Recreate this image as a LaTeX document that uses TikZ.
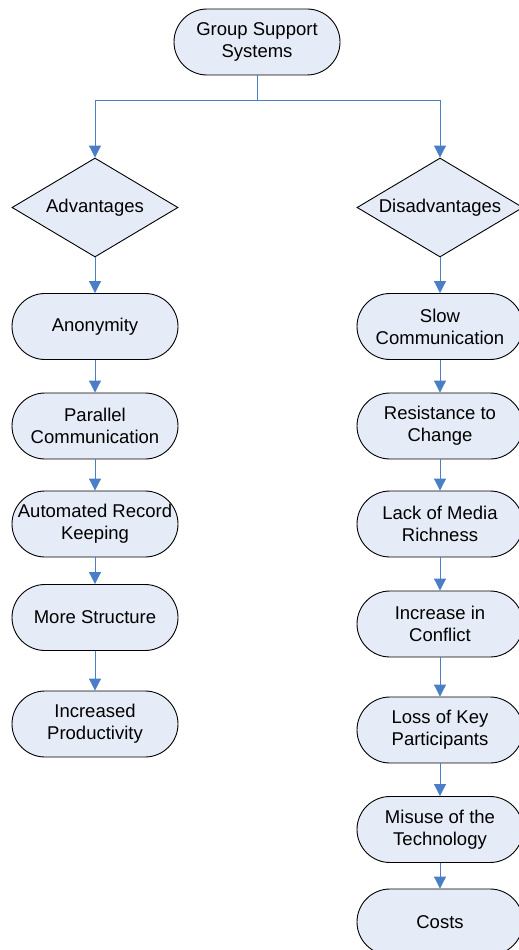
\documentclass[tikz,border=0pt]{standalone}
\usepackage{fontspec}
\setmainfont{Liberation Sans}
\usetikzlibrary{shapes.geometric,arrows.meta}
\definecolor{boxfill}{HTML}{E6ECF7}
\definecolor{arrowblue}{HTML}{4A7EC6}
\tikzset{
  stadium/.style={draw=black, line width=0.9pt, fill=boxfill, rounded corners=33pt,
    minimum width=166pt, minimum height=66pt, inner sep=0pt, align=center,
    font=\fontsize{18.5}{22}\selectfont},
  choice/.style={draw=black, line width=0.9pt, fill=boxfill, diamond, aspect=1.68,
    minimum width=166pt, minimum height=99pt, inner sep=0pt, align=center,
    font=\fontsize{18.5}{22}\selectfont},
  link/.style={draw=arrowblue, line width=1pt, -{Triangle[width=12pt,length=12pt]}},
  plain/.style={draw=arrowblue, line width=1pt}
}
\begin{document}
\begin{tikzpicture}[x=1pt,y=-1pt]
\useasboundingbox (0,0) rectangle (519,950);
\clip (0,0) rectangle (519,950);
\node[stadium] (gss) at (257,42) {Group Support\\Systems};
\node[choice] (adv) at (95,207.5) {Advantages};
\node[choice] (dis) at (440,207.5) {Disadvantages};
\coordinate (split) at (257,100);

\node[stadium] (a1) at (95,326.5) {Anonymity};
\node[stadium] (a2) at (95,426) {Parallel\\Communication};
\node[stadium] (a3) at (95,524) {Automated Record\\Keeping};
\node[stadium] (a4) at (95,617.5) {More Structure};
\node[stadium] (a5) at (95,724) {Increased\\Productivity};

\node[stadium] (d1) at (440,326.5) {Slow\\Communication};
\node[stadium] (d2) at (440,426) {Resistance to\\Change};
\node[stadium] (d3) at (440,524) {Lack of Media\\Richness};
\node[stadium] (d4) at (440,624) {Increase in\\Conflict};
\node[stadium] (d5) at (440,730) {Loss of Key\\Participants};
\node[stadium] (d6) at (440,829.5) {Misuse of the\\Technology};
\node[stadium] (d7) at (440,922) {Costs};

\draw[plain] (gss.south) -- (split);
\draw[link] (split) -| (adv.north);
\draw[link] (split) -| (dis.north);

\draw[link] (adv.south) -- (a1);
\draw[link] (a1) -- (a2);
\draw[link] (a2) -- (a3);
\draw[link] (a3) -- (a4);
\draw[link] (a4) -- (a5);

\draw[link] (dis.south) -- (d1);
\draw[link] (d1) -- (d2);
\draw[link] (d2) -- (d3);
\draw[link] (d3) -- (d4);
\draw[link] (d4) -- (d5);
\draw[link] (d5) -- (d6);
\draw[link] (d6) -- (d7);
\end{tikzpicture}
\end{document}
